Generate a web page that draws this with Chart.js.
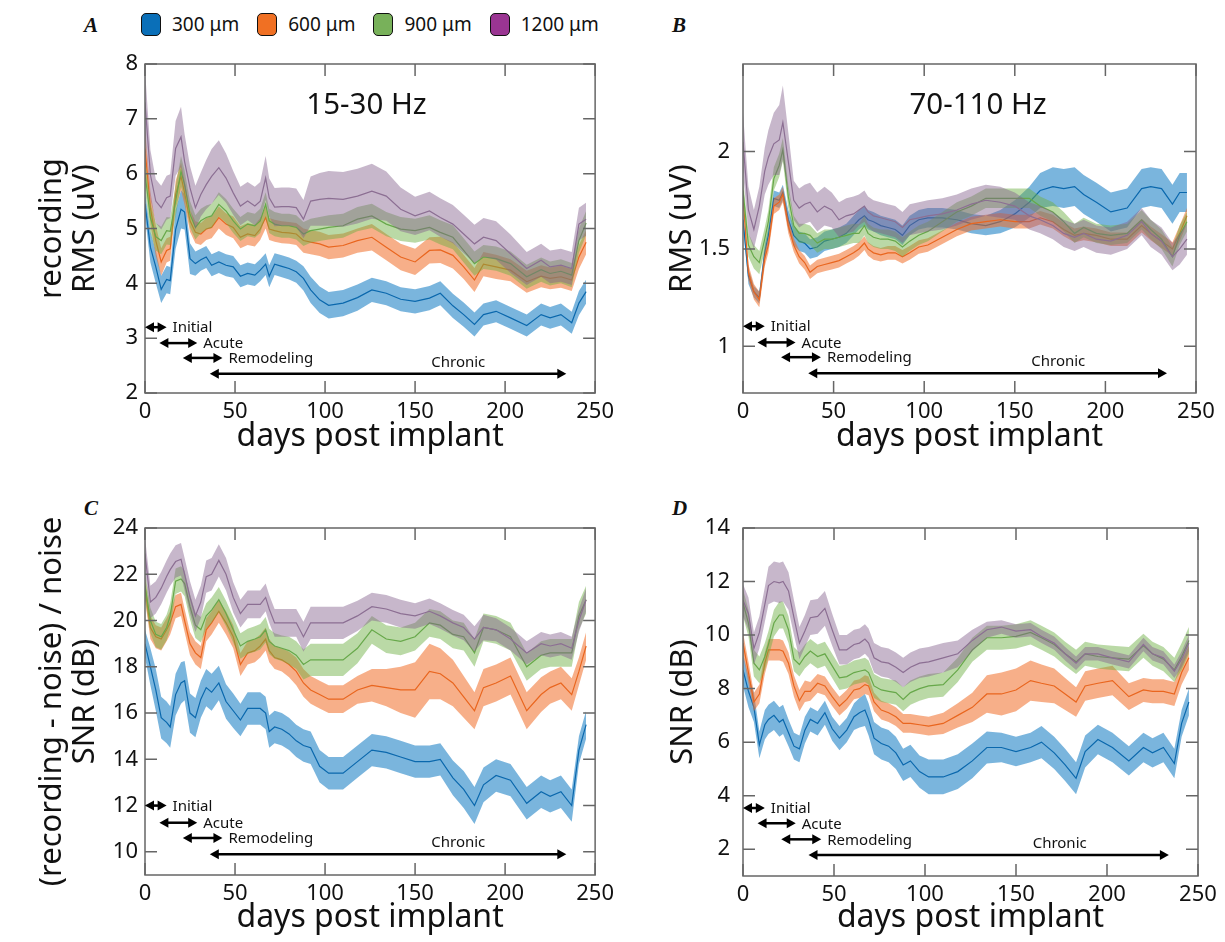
<!DOCTYPE html>
<html>
<head>
<meta charset="utf-8">
<title>Recording RMS and SNR by electrode depth</title>
<script src="https://cdn.jsdelivr.net/npm/chart.js@4.4.1/dist/chart.umd.min.js"></script>
<style>
  body { margin: 0; background: #fff; width: 1225px; height: 942px; position: relative; overflow: hidden; font-family: 'Noto Sans', sans-serif; color: #111; }
  canvas { position: absolute; }
  .tag { position: absolute; font: italic bold 21px 'Liberation Serif', 'DejaVu Serif', serif; }
  #legend { position: absolute; left: 141px; top: 12px; display: flex; gap: 18px; font-size: 19px; line-height: 24px; }
  #legend span.item { display: flex; align-items: center; }
  #legend i { display: inline-block; width: 18px; height: 21px; border: 1.5px solid #111; border-radius: 5px; margin-right: 11px; }
</style>
</head>
<body>
<div id="legend"></div>
<div class="tag" style="left:84px;top:13px">A</div>
<div class="tag" style="left:672px;top:13px">B</div>
<div class="tag" style="left:84px;top:496px">C</div>
<div class="tag" style="left:672px;top:496px">D</div>
<canvas id="chartA" width="620" height="470" style="left:0;top:0"></canvas>
<canvas id="chartB" width="605" height="470" style="left:620px;top:0"></canvas>
<canvas id="chartC" width="620" height="472" style="left:0;top:470px"></canvas>
<canvas id="chartD" width="605" height="472" style="left:620px;top:470px"></canvas>
<script>
// days post implant at which every group was sampled
const days = [0, 3, 6, 9, 12, 14, 17, 20, 22, 25,
  28, 31, 34, 37, 41, 45, 49, 53, 57, 61,
  64, 67, 69, 72, 76, 80, 84, 88, 92, 97,
  102, 110, 118, 126, 134, 142, 150, 158, 164, 171,
  177, 183, 188, 195, 203, 212, 220, 225, 231, 237,
  241, 245];

const depths = ['300 μm', '600 μm', '900 μm', '1200 μm'];
const xTicks = [0, 50, 100, 150, 200, 250];

// A: 15-30 Hz recording RMS (uV), mean and s.e.m.
const rmsLow300 = [5.45, 4.66, 4.30, 3.89, 4.07, 4.05, 4.98, 5.35, 5.30, 4.45,
  4.36, 4.43, 4.48, 4.33, 4.39, 4.33, 4.30, 4.13, 4.18, 4.15,
  4.24, 4.35, 4.13, 4.35, 4.31, 4.27, 4.21, 4.09, 3.88, 3.70,
  3.60, 3.64, 3.74, 3.88, 3.82, 3.71, 3.67, 3.73, 3.82, 3.59,
  3.43, 3.25, 3.43, 3.49, 3.37, 3.23, 3.43, 3.37, 3.43, 3.28,
  3.64, 3.85];
const rmsLow300Err = [0.22, 0.28, 0.30, 0.25, 0.25, 0.25, 0.35, 0.35, 0.32, 0.28,
  0.22, 0.20, 0.20, 0.20, 0.20, 0.20, 0.20, 0.20, 0.20, 0.20,
  0.20, 0.20, 0.20, 0.20, 0.20, 0.20, 0.20, 0.22, 0.24, 0.24,
  0.24, 0.24, 0.24, 0.22, 0.22, 0.22, 0.22, 0.22, 0.22, 0.22,
  0.22, 0.22, 0.20, 0.20, 0.20, 0.20, 0.20, 0.20, 0.20, 0.20,
  0.22, 0.22];
const rmsLow600 = [6.46, 5.38, 4.78, 4.39, 4.60, 4.63, 5.62, 5.95, 5.65, 5.14,
  4.93, 4.90, 4.99, 5.02, 5.20, 5.08, 5.02, 4.84, 4.90, 4.87,
  4.99, 5.20, 4.99, 4.96, 4.93, 4.92, 4.90, 4.78, 4.75, 4.72,
  4.66, 4.69, 4.78, 4.84, 4.66, 4.48, 4.39, 4.60, 4.61, 4.51,
  4.30, 4.06, 4.35, 4.30, 4.24, 4.03, 4.13, 4.09, 4.12, 4.06,
  4.48, 4.75];
const rmsLow600Err = [0.35, 0.30, 0.28, 0.25, 0.22, 0.22, 0.25, 0.25, 0.22, 0.20,
  0.20, 0.20, 0.20, 0.20, 0.20, 0.20, 0.20, 0.20, 0.20, 0.20,
  0.20, 0.20, 0.20, 0.20, 0.20, 0.20, 0.20, 0.22, 0.22, 0.22,
  0.22, 0.22, 0.22, 0.24, 0.24, 0.24, 0.24, 0.24, 0.24, 0.24,
  0.22, 0.22, 0.22, 0.22, 0.20, 0.20, 0.20, 0.20, 0.20, 0.20,
  0.22, 0.22];
const rmsLow900 = [6.00, 5.20, 4.85, 4.78, 4.96, 4.95, 5.50, 6.04, 5.80, 5.26,
  5.02, 5.14, 5.20, 5.23, 5.44, 5.32, 5.14, 4.99, 5.08, 5.05,
  5.14, 5.44, 5.14, 5.08, 5.05, 5.05, 5.02, 4.90, 4.96, 4.99,
  5.02, 5.05, 5.17, 5.23, 5.08, 4.99, 4.96, 5.02, 4.93, 4.84,
  4.60, 4.36, 4.48, 4.45, 4.36, 4.12, 4.25, 4.18, 4.22, 4.15,
  4.78, 5.10];
const rmsLow900Err = [0.30, 0.28, 0.25, 0.25, 0.25, 0.25, 0.28, 0.28, 0.26, 0.24,
  0.22, 0.22, 0.22, 0.22, 0.22, 0.22, 0.22, 0.22, 0.22, 0.22,
  0.22, 0.22, 0.22, 0.22, 0.22, 0.22, 0.22, 0.22, 0.22, 0.22,
  0.22, 0.22, 0.22, 0.22, 0.22, 0.22, 0.22, 0.22, 0.22, 0.22,
  0.22, 0.22, 0.22, 0.22, 0.22, 0.22, 0.22, 0.22, 0.22, 0.22,
  0.22, 0.22];
const rmsLow1200 = [7.30, 5.98, 5.50, 5.38, 5.56, 5.59, 6.46, 6.67, 6.22, 5.74,
  5.38, 5.62, 5.80, 5.95, 6.11, 5.92, 5.65, 5.41, 5.50, 5.41,
  5.50, 5.92, 5.56, 5.39, 5.40, 5.40, 5.38, 5.17, 5.50, 5.53,
  5.55, 5.53, 5.59, 5.68, 5.59, 5.35, 5.23, 5.32, 5.20, 5.08,
  4.90, 4.72, 4.84, 4.78, 4.54, 4.27, 4.42, 4.30, 4.33, 4.27,
  5.08, 5.17];
const rmsLow1200Err = [0.60, 0.45, 0.40, 0.40, 0.40, 0.40, 0.50, 0.55, 0.50, 0.40,
  0.40, 0.40, 0.45, 0.50, 0.50, 0.45, 0.40, 0.35, 0.35, 0.35,
  0.35, 0.40, 0.35, 0.35, 0.35, 0.35, 0.35, 0.35, 0.45, 0.48,
  0.50, 0.50, 0.50, 0.50, 0.45, 0.40, 0.35, 0.35, 0.35, 0.35,
  0.35, 0.35, 0.35, 0.35, 0.35, 0.30, 0.30, 0.30, 0.30, 0.30,
  0.30, 0.30];

// B: 70-110 Hz recording RMS (uV)
const rmsHigh300 = [1.65, 1.36, 1.28, 1.25, 1.48, 1.57, 1.76, 1.75, 1.79, 1.65,
  1.57, 1.54, 1.53, 1.50, 1.51, 1.54, 1.55, 1.56, 1.58, 1.62,
  1.65, 1.67, 1.65, 1.64, 1.62, 1.61, 1.60, 1.57, 1.62, 1.65,
  1.66, 1.66, 1.65, 1.63, 1.62, 1.64, 1.68, 1.74, 1.80, 1.82,
  1.81, 1.82, 1.78, 1.74, 1.69, 1.71, 1.81, 1.82, 1.81, 1.73,
  1.79, 1.79];
const rmsHigh300Err = [0.04, 0.04, 0.03, 0.03, 0.04, 0.04, 0.04, 0.04, 0.04, 0.05,
  0.05, 0.05, 0.05, 0.05, 0.05, 0.05, 0.05, 0.05, 0.05, 0.05,
  0.05, 0.05, 0.05, 0.05, 0.05, 0.05, 0.05, 0.05, 0.05, 0.05,
  0.05, 0.05, 0.05, 0.05, 0.05, 0.06, 0.07, 0.08, 0.09, 0.10,
  0.10, 0.10, 0.10, 0.10, 0.10, 0.10, 0.10, 0.10, 0.10, 0.10,
  0.10, 0.10];
const rmsHigh600 = [1.77, 1.38, 1.28, 1.24, 1.45, 1.52, 1.72, 1.74, 1.78, 1.62,
  1.52, 1.46, 1.43, 1.38, 1.41, 1.42, 1.43, 1.44, 1.46, 1.48,
  1.50, 1.53, 1.50, 1.48, 1.47, 1.48, 1.48, 1.46, 1.48, 1.51,
  1.52, 1.56, 1.60, 1.63, 1.64, 1.65, 1.64, 1.64, 1.66, 1.64,
  1.60, 1.57, 1.58, 1.57, 1.55, 1.55, 1.62, 1.58, 1.54, 1.50,
  1.58, 1.67];
const rmsHigh600Err = [0.04, 0.04, 0.04, 0.04, 0.04, 0.04, 0.04, 0.04, 0.04, 0.04,
  0.035, 0.035, 0.035, 0.035, 0.035, 0.035, 0.035, 0.035, 0.035, 0.035,
  0.035, 0.035, 0.035, 0.035, 0.035, 0.035, 0.035, 0.035, 0.035, 0.035,
  0.035, 0.035, 0.035, 0.035, 0.035, 0.035, 0.035, 0.035, 0.035, 0.035,
  0.035, 0.035, 0.035, 0.035, 0.035, 0.035, 0.035, 0.035, 0.035, 0.035,
  0.04, 0.04];
const rmsHigh900 = [1.80, 1.52, 1.46, 1.43, 1.55, 1.64, 1.86, 1.93, 2.01, 1.77,
  1.62, 1.58, 1.58, 1.57, 1.53, 1.55, 1.55, 1.56, 1.57, 1.58,
  1.58, 1.62, 1.58, 1.56, 1.55, 1.55, 1.54, 1.51, 1.54, 1.57,
  1.59, 1.64, 1.69, 1.72, 1.76, 1.76, 1.76, 1.76, 1.72, 1.69,
  1.64, 1.58, 1.61, 1.58, 1.57, 1.58, 1.65, 1.60, 1.55, 1.46,
  1.57, 1.64];
const rmsHigh900Err = [0.06, 0.06, 0.06, 0.06, 0.06, 0.06, 0.06, 0.06, 0.06, 0.06,
  0.05, 0.05, 0.05, 0.05, 0.05, 0.05, 0.05, 0.05, 0.05, 0.05,
  0.05, 0.05, 0.05, 0.05, 0.05, 0.05, 0.05, 0.05, 0.05, 0.05,
  0.05, 0.05, 0.05, 0.05, 0.05, 0.05, 0.05, 0.05, 0.05, 0.05,
  0.05, 0.05, 0.05, 0.05, 0.05, 0.05, 0.05, 0.05, 0.05, 0.05,
  0.05, 0.05];
const rmsHigh1200 = [2.05, 1.70, 1.60, 1.72, 1.90, 1.97, 2.04, 2.06, 2.15, 1.95,
  1.75, 1.71, 1.73, 1.74, 1.69, 1.72, 1.70, 1.65, 1.67, 1.68,
  1.70, 1.72, 1.69, 1.67, 1.66, 1.65, 1.64, 1.61, 1.65, 1.66,
  1.67, 1.68, 1.70, 1.73, 1.75, 1.74, 1.72, 1.67, 1.65, 1.62,
  1.58, 1.56, 1.58, 1.55, 1.54, 1.57, 1.64, 1.58, 1.54, 1.46,
  1.50, 1.55];
const rmsHigh1200Err = [0.15, 0.12, 0.10, 0.10, 0.12, 0.14, 0.16, 0.18, 0.19, 0.15,
  0.10, 0.10, 0.10, 0.10, 0.10, 0.10, 0.09, 0.09, 0.09, 0.09,
  0.08, 0.08, 0.08, 0.08, 0.08, 0.08, 0.08, 0.08, 0.08, 0.08,
  0.08, 0.08, 0.08, 0.08, 0.08, 0.08, 0.07, 0.07, 0.07, 0.07,
  0.07, 0.07, 0.07, 0.07, 0.07, 0.07, 0.07, 0.07, 0.07, 0.07,
  0.08, 0.08];

// C: 15-30 Hz SNR (dB)
const snrLow300 = [19.0, 18.0, 17.0, 15.8, 15.6, 15.4, 16.8, 17.3, 17.4, 16.0,
  15.8, 16.6, 17.1, 16.9, 17.3, 16.5, 16.1, 15.7, 16.2, 16.2,
  16.2, 16.0, 15.2, 15.4, 15.3, 15.1, 14.8, 14.6, 14.5, 13.7,
  13.4, 13.4, 13.9, 14.4, 14.3, 14.1, 13.9, 13.9, 14.0, 13.2,
  12.7, 12.0, 12.9, 13.3, 13.1, 12.1, 12.6, 12.4, 12.6, 12.0,
  14.4, 15.5];
const snrLow300Err = [0.6, 0.8, 0.9, 0.9, 0.9, 0.9, 0.9, 0.9, 0.85, 0.85,
  0.85, 0.8, 0.8, 0.8, 0.75, 0.75, 0.75, 0.7, 0.7, 0.7,
  0.7, 0.7, 0.7, 0.7, 0.7, 0.7, 0.7, 0.7, 0.7, 0.7,
  0.7, 0.7, 0.7, 0.7, 0.7, 0.7, 0.7, 0.7, 0.7, 0.75,
  0.8, 0.8, 0.75, 0.7, 0.7, 0.7, 0.7, 0.7, 0.7, 0.7,
  0.6, 0.6];
const snrLow600 = [21.4, 19.7, 19.3, 19.2, 19.6, 19.9, 20.6, 20.7, 20.0, 19.0,
  18.6, 18.4, 19.6, 19.9, 20.4, 19.9, 19.3, 18.1, 18.6, 18.7,
  18.9, 19.2, 18.7, 18.4, 18.3, 18.1, 17.8, 17.3, 17.0, 16.8,
  16.6, 16.6, 17.0, 17.2, 17.1, 17.0, 17.0, 17.8, 17.7, 17.3,
  16.7, 16.1, 17.1, 17.3, 17.6, 16.1, 16.8, 17.1, 17.3, 16.8,
  17.8, 18.9];
const snrLow600Err = [0.5, 0.5, 0.5, 0.5, 0.5, 0.5, 0.5, 0.5, 0.5, 0.5,
  0.5, 0.5, 0.5, 0.5, 0.5, 0.5, 0.5, 0.5, 0.5, 0.5,
  0.5, 0.5, 0.5, 0.5, 0.5, 0.55, 0.6, 0.6, 0.6, 0.6,
  0.6, 0.6, 0.6, 0.7, 0.8, 1.0, 1.2, 1.2, 1.1, 1.0,
  0.9, 0.8, 0.8, 0.8, 0.8, 0.8, 0.75, 0.7, 0.7, 0.7,
  0.6, 0.6];
const snrLow900 = [21.5, 20.0, 19.4, 19.3, 19.7, 20.2, 21.7, 21.8, 21.6, 20.6,
  19.8, 19.6, 20.2, 20.45, 20.9, 20.3, 19.6, 18.9, 19.1, 19.2,
  19.3, 19.6, 19.1, 18.9, 18.8, 18.7, 18.5, 18.1, 18.3, 18.3,
  18.3, 18.3, 18.8, 19.6, 19.2, 19.1, 19.3, 19.9, 19.8, 19.4,
  19.3, 18.6, 19.7, 19.6, 19.3, 18.0, 18.5, 18.6, 18.6, 18.6,
  20.2, 20.9];
const snrLow900Err = [0.6, 0.55, 0.55, 0.55, 0.55, 0.55, 0.55, 0.55, 0.55, 0.55,
  0.55, 0.55, 0.55, 0.55, 0.55, 0.55, 0.55, 0.55, 0.55, 0.55,
  0.55, 0.55, 0.55, 0.55, 0.55, 0.6, 0.6, 0.65, 0.7, 0.7,
  0.7, 0.7, 0.65, 0.6, 0.6, 0.6, 0.6, 0.6, 0.6, 0.6,
  0.6, 0.6, 0.6, 0.6, 0.6, 0.6, 0.6, 0.6, 0.6, 0.6,
  0.6, 0.6];
const snrLow1200 = [22.9, 20.8, 21.0, 21.4, 21.9, 22.2, 22.55, 22.65, 22.0, 21.0,
  20.2, 20.8, 21.9, 22.0, 22.6, 22.0, 21.0, 20.3, 20.7, 20.7,
  20.7, 21.0, 20.5, 19.9, 19.9, 19.9, 19.9, 19.3, 19.9, 19.9,
  19.9, 19.9, 20.2, 20.6, 20.5, 20.3, 20.2, 20.4, 20.2, 19.9,
  19.7, 19.2, 19.7, 19.6, 19.2, 18.6, 19.0, 18.9, 19.0, 18.8,
  20.0, 20.9];
const snrLow1200Err = [0.7, 0.7, 0.7, 0.7, 0.7, 0.7, 0.7, 0.7, 0.7, 0.7,
  0.7, 0.7, 0.7, 0.7, 0.7, 0.7, 0.65, 0.6, 0.6, 0.6,
  0.6, 0.6, 0.6, 0.6, 0.6, 0.6, 0.6, 0.65, 0.7, 0.7,
  0.7, 0.7, 0.65, 0.6, 0.6, 0.6, 0.55, 0.55, 0.55, 0.55,
  0.55, 0.55, 0.55, 0.5, 0.5, 0.5, 0.5, 0.5, 0.5, 0.5,
  0.5, 0.5];

// D: 70-110 Hz SNR (dB)
const snrHigh300 = [8.7, 7.9, 7.3, 5.9, 6.65, 6.85, 7.0, 6.75, 6.85, 6.35,
  5.85, 5.75, 6.45, 6.85, 6.7, 7.1, 6.5, 6.15, 6.45, 6.95,
  7.1, 7.2, 6.85, 6.15, 5.95, 5.85, 5.6, 5.15, 5.3, 4.9,
  4.7, 4.7, 4.9, 5.3, 5.8, 5.8, 5.65, 5.8, 6.0, 5.6,
  5.15, 4.65, 5.65, 6.1, 5.8, 5.3, 5.8, 5.6, 5.8, 5.2,
  6.7, 7.5];
const snrHigh300Err = [0.6, 0.6, 0.55, 0.5, 0.55, 0.55, 0.55, 0.55, 0.55, 0.5,
  0.5, 0.5, 0.5, 0.45, 0.45, 0.45, 0.45, 0.45, 0.45, 0.5,
  0.55, 0.6, 0.6, 0.6, 0.6, 0.6, 0.6, 0.6, 0.6, 0.6,
  0.65, 0.65, 0.65, 0.65, 0.6, 0.55, 0.55, 0.55, 0.6, 0.6,
  0.6, 0.6, 0.6, 0.55, 0.55, 0.55, 0.55, 0.55, 0.55, 0.55,
  0.5, 0.5];
const snrHigh600 = [9.7, 8.6, 7.5, 7.8, 8.95, 9.45, 9.45, 9.45, 9.4, 8.95,
  8.1, 7.55, 7.9, 7.9, 8.2, 8.1, 7.7, 7.35, 7.6, 7.95,
  8.0, 8.15, 8.1, 7.5, 7.2, 7.1, 6.95, 6.7, 6.7, 6.65,
  6.6, 6.7, 7.0, 7.3, 7.8, 7.8, 7.95, 8.3, 8.2, 8.1,
  7.8, 7.5, 8.1, 8.2, 8.3, 7.7, 7.95, 7.9, 7.9, 7.8,
  8.6, 9.15];
const snrHigh600Err = [0.4, 0.4, 0.35, 0.35, 0.4, 0.4, 0.4, 0.4, 0.4, 0.4,
  0.4, 0.4, 0.4, 0.35, 0.35, 0.35, 0.35, 0.35, 0.35, 0.35,
  0.35, 0.35, 0.35, 0.35, 0.35, 0.35, 0.35, 0.35, 0.35, 0.35,
  0.35, 0.4, 0.45, 0.55, 0.7, 0.8, 0.8, 0.75, 0.7, 0.65,
  0.6, 0.55, 0.55, 0.55, 0.55, 0.5, 0.45, 0.45, 0.45, 0.45,
  0.45, 0.45];
const snrHigh900 = [11.2, 10.45, 8.95, 8.7, 9.2, 9.65, 10.45, 10.75, 10.75, 10.2,
  9.1, 8.9, 9.2, 9.4, 9.2, 9.3, 8.85, 8.4, 8.45, 8.6,
  8.65, 8.7, 8.6, 8.1, 7.95, 7.9, 7.85, 7.6, 7.85, 8.0,
  8.1, 8.15, 8.7, 9.45, 9.9, 9.9, 9.95, 10.1, 9.9, 9.65,
  9.3, 9.0, 9.3, 9.2, 9.15, 9.1, 9.6, 9.3, 9.1, 8.7,
  9.2, 9.8];
const snrHigh900Err = [0.5, 0.5, 0.5, 0.5, 0.5, 0.5, 0.5, 0.5, 0.5, 0.5,
  0.45, 0.45, 0.45, 0.45, 0.45, 0.45, 0.45, 0.45, 0.45, 0.45,
  0.45, 0.45, 0.45, 0.45, 0.45, 0.45, 0.45, 0.45, 0.45, 0.45,
  0.45, 0.45, 0.45, 0.45, 0.45, 0.45, 0.45, 0.45, 0.45, 0.45,
  0.45, 0.45, 0.45, 0.45, 0.45, 0.45, 0.45, 0.45, 0.45, 0.45,
  0.5, 0.5];
const snrHigh1200 = [11.3, 10.8, 9.5, 10.1, 11.15, 11.85, 12.0, 11.95, 12.0, 11.65,
  10.65, 9.7, 10.15, 10.65, 10.7, 11.0, 10.2, 9.45, 9.45, 9.65,
  9.7, 9.85, 9.7, 9.15, 9.0, 8.95, 8.8, 8.6, 8.8, 8.95,
  9.0, 9.15, 9.3, 9.8, 10.2, 10.3, 10.15, 10.2, 9.95, 9.7,
  9.3, 8.95, 9.3, 9.3, 9.15, 9.0, 9.65, 9.3, 9.15, 8.65,
  9.1, 9.7];
const snrHigh1200Err = [0.6, 0.6, 0.6, 0.6, 0.65, 0.7, 0.75, 0.75, 0.75, 0.7,
  0.65, 0.6, 0.6, 0.65, 0.65, 0.65, 0.6, 0.55, 0.55, 0.55,
  0.55, 0.55, 0.55, 0.55, 0.55, 0.55, 0.55, 0.55, 0.55, 0.55,
  0.55, 0.55, 0.5, 0.4, 0.3, 0.25, 0.25, 0.25, 0.25, 0.25,
  0.25, 0.25, 0.25, 0.25, 0.25, 0.25, 0.25, 0.25, 0.25, 0.25,
  0.3, 0.3];

// healing phases after implantation (days)
const phaseNames = ['Initial', 'Acute', 'Remodeling', 'Chronic'];
const phaseStart = [0, 8, 21, 36];
const phaseEnd = [12, 29, 43, 234];

const swatchColors = ['#0a6fb8', '#f07023', '#78b15a', '#9a3592'];
const lineColors = ['#0a68ad', '#e9661f', '#67a84a', '#8c6f93'];
const bandColors = ['rgba(0,114,189,0.52)', 'rgba(240,110,40,0.55)', 'rgba(110,175,70,0.48)', 'rgba(130,95,140,0.45)'];

const FONT = "'Noto Sans', sans-serif";

// legend row above panel A
const legend = document.getElementById('legend');
depths.forEach((d, i) => {
  const item = document.createElement('span');
  item.className = 'item';
  item.innerHTML = `<i style="background:${swatchColors[i]}"></i>${d}`;
  legend.appendChild(item);
});

// frame with inward ticks on every side, band label and phase arrows
const decor = {
  id: 'decor',
  afterDatasetsDraw(chart, args, opts) {
    const {ctx, chartArea: a, scales: {x, y}} = chart;
    ctx.save();
    ctx.strokeStyle = '#666';
    ctx.lineWidth = 1.5;
    ctx.strokeRect(a.left, a.top, a.right - a.left, a.bottom - a.top);
    const len = 12;
    ctx.beginPath();
    x.ticks.forEach(t => {
      const px = x.getPixelForValue(t.value);
      ctx.moveTo(px, a.bottom); ctx.lineTo(px, a.bottom - len);
      ctx.moveTo(px, a.top); ctx.lineTo(px, a.top + len);
    });
    y.ticks.forEach(t => {
      const py = y.getPixelForValue(t.value);
      ctx.moveTo(a.left, py); ctx.lineTo(a.left + len, py);
      ctx.moveTo(a.right, py); ctx.lineTo(a.right - len, py);
    });
    ctx.stroke();

    ctx.fillStyle = '#111';
    if (opts.band) {
      ctx.font = `29.5px ${FONT}`;
      ctx.textAlign = 'center';
      ctx.textBaseline = 'middle';
      ctx.fillText(opts.band, a.left + (a.right - a.left) * opts.bandAt[0], a.top + (a.bottom - a.top) * opts.bandAt[1]);
    }

    ctx.strokeStyle = '#000';
    ctx.fillStyle = '#000';
    ctx.lineWidth = 2.5;
    ctx.font = `15px ${FONT}`;
    phaseNames.forEach((name, i) => {
      const x1 = x.getPixelForValue(phaseStart[i]);
      const x2 = x.getPixelForValue(phaseEnd[i]);
      const py = y.getPixelForValue(opts.phaseY[i]);
      drawArrow(ctx, x1, x2, py);
      ctx.fillStyle = '#111';
      ctx.textBaseline = 'middle';
      if (i < 3) {
        ctx.textAlign = 'left';
        ctx.fillText(name, x2 + 6, py + 1);
      } else {
        ctx.textAlign = 'center';
        ctx.fillText(name, x.getPixelForValue(opts.chronicLabelDay), py - 11);
      }
      ctx.fillStyle = '#000';
    });
    ctx.restore();
  }
};

function drawArrow(ctx, x1, x2, y) {
  const head = 9, half = 5;
  ctx.beginPath();
  ctx.moveTo(x1 + head - 1, y);
  ctx.lineTo(x2 - head + 1, y);
  ctx.stroke();
  ctx.beginPath();
  ctx.moveTo(x1, y); ctx.lineTo(x1 + head, y - half); ctx.lineTo(x1 + head, y + half);
  ctx.closePath(); ctx.fill();
  ctx.beginPath();
  ctx.moveTo(x2, y); ctx.lineTo(x2 - head, y - half); ctx.lineTo(x2 - head, y + half);
  ctx.closePath(); ctx.fill();
}

const panels = [
  { id: 'chartA', size: [620, 470], area: [145, 64, 600, 393], yMin: 2, yMax: 8, yTicks: [2, 3, 4, 5, 6, 7, 8],
    yTitle: ['recording', 'RMS (uV)'], yTitlePad: 36, yTickPad: 7, xTitlePad: 14, band: '15-30 Hz', bandAt: [0.492, 0.125],
    phaseY: [3.2, 2.91, 2.64, 2.35],
    series: [[rmsLow300, rmsLow300Err], [rmsLow600, rmsLow600Err], [rmsLow900, rmsLow900Err], [rmsLow1200, rmsLow1200Err]] },
  { id: 'chartB', size: [605, 470], area: [123, 64, 576, 393], yMin: 0.76, yMax: 2.45, yTicks: [1, 1.5, 2],
    yTitle: 'RMS (uV)', yTitlePad: 46, yTickPad: 13, xTitlePad: 14, band: '70-110 Hz', bandAt: [0.519, 0.125],
    phaseY: [1.103, 1.02, 0.944, 0.862],
    series: [[rmsHigh300, rmsHigh300Err], [rmsHigh600, rmsHigh600Err], [rmsHigh900, rmsHigh900Err], [rmsHigh1200, rmsHigh1200Err]] },
  { id: 'chartC', size: [620, 472], area: [145, 58, 600, 405], yMin: 9, yMax: 24, yTicks: [10, 12, 14, 16, 18, 20, 22, 24],
    yTitle: ['(recording - noise) / noise', 'SNR (dB)'], yTitlePad: 36, yTickPad: 7, xTitlePad: 5, band: null,
    phaseY: [12.0, 11.26, 10.6, 9.9],
    series: [[snrLow300, snrLow300Err], [snrLow600, snrLow600Err], [snrLow900, snrLow900Err], [snrLow1200, snrLow1200Err]] },
  { id: 'chartD', size: [605, 472], area: [123, 58, 578, 406], yMin: 1, yMax: 14, yTicks: [2, 4, 6, 8, 10, 12, 14],
    yTitle: 'SNR (dB)', yTitlePad: 47, yTickPad: 13, xTitlePad: 5, band: null,
    phaseY: [3.54, 2.97, 2.37, 1.78],
    series: [[snrHigh300, snrHigh300Err], [snrHigh600, snrHigh600Err], [snrHigh900, snrHigh900Err], [snrHigh1200, snrHigh1200Err]] }
];

function buildPanel(p) {
  const [w, h] = p.size;
  const [al, at, ar, ab] = p.area;
  const datasets = [];
  p.series.forEach(([mean, err], i) => {
    const ord = 2 * (4 - i);
    // shaded s.e.m. band: upper edge, then lower edge filled back to it
    datasets.push({ label: '', data: days.map((d, k) => ({x: d, y: mean[k] + err[k]})),
      borderColor: 'rgba(0,0,0,0)', borderWidth: 1, pointRadius: 0, fill: false, order: ord });
    datasets.push({ label: '', data: days.map((d, k) => ({x: d, y: mean[k] - err[k]})),
      borderColor: 'rgba(0,0,0,0)', borderWidth: 1, pointRadius: 0, fill: '-1', backgroundColor: bandColors[i], order: ord });
    datasets.push({ label: depths[i], data: days.map((d, k) => ({x: d, y: mean[k]})),
      borderColor: lineColors[i], borderWidth: 1.2, pointRadius: 0, fill: false, order: ord - 1 });
  });

  new Chart(document.getElementById(p.id), {
    type: 'line',
    data: { datasets },
    options: {
      responsive: false,
      animation: false,
      events: [],
      layout: { padding: { left: 0, top: at, right: w - ar, bottom: 0 } },
      elements: { line: { tension: 0 } },
      plugins: {
        legend: { display: false },
        tooltip: { enabled: false },
        decor: { band: p.band, bandAt: p.bandAt, phaseY: p.phaseY, chronicLabelDay: 174 }
      },
      scales: {
        x: {
          type: 'linear', min: 0, max: 250,
          afterBuildTicks: s => { s.ticks = xTicks.map(v => ({value: v})); },
          afterFit: s => { s.height = h - ab; },
          grid: { display: false, drawTicks: false },
          border: { display: false },
          ticks: { padding: 6, autoSkip: false, maxRotation: 0, color: '#111', font: { family: FONT, size: 22 } },
          title: { display: true, text: 'days post implant', color: '#111',
            font: { family: FONT, size: 32, lineHeight: 1.2 }, padding: { top: 0, bottom: p.xTitlePad } }
        },
        y: {
          type: 'linear', min: p.yMin, max: p.yMax,
          afterBuildTicks: s => { s.ticks = p.yTicks.map(v => ({value: v})); },
          afterFit: s => { s.width = al; },
          grid: { display: false, drawTicks: false },
          border: { display: false },
          ticks: { padding: p.yTickPad, autoSkip: false, color: '#111', font: { family: FONT, size: 22 },
            callback: v => String(v) },
          title: { display: true, text: p.yTitle, color: '#111',
            font: { family: FONT, size: 31, lineHeight: 1.05 }, padding: { top: p.yTitlePad, bottom: 0 } }
        }
      }
    },
    plugins: [decor]
  });
}

panels.forEach(buildPanel);
</script>
</body>
</html>
